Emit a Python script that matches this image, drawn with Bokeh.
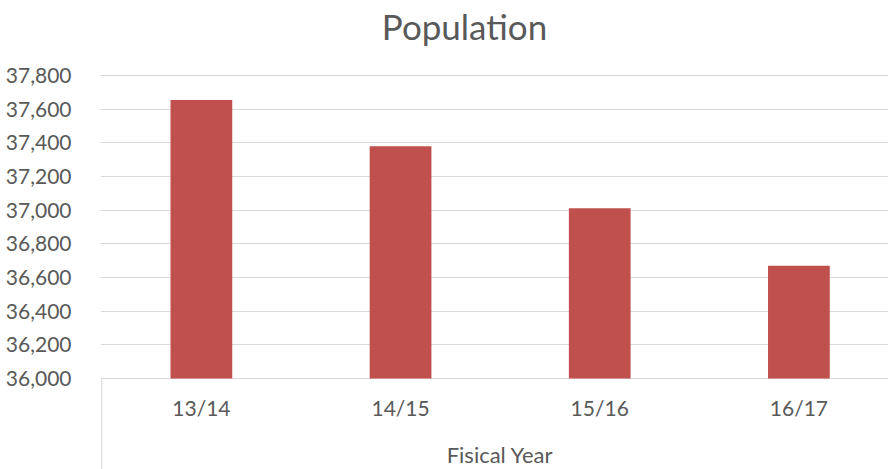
from bokeh.plotting import figure
from bokeh.models import Range1d, FixedTicker, NumeralTickFormatter, ColumnDataSource
from bokeh.core.properties import value
from bokeh.embed import file_html
from bokeh.resources import INLINE

title_text = "Population"
x_title = "Fisical Year"
categories = ["13/14", "14/15", "15/16", "16/17"]
population = [37655, 37380, 37012, 36670]
y_ticks = [36000, 36200, 36400, 36600, 36800, 37000, 37200, 37400, 37600, 37800]

FONT = "Lato"
TXT = "#595959"
GRID = "#D9D9D9"
BAR = "#C0504D"

W, H = 888, 469
# layout (pixels): category axis origin, category pitch, value-axis span
X0_PX, CAT_PX = 101.3, 199.17
FRAME_LEFT = 100
Y_TOP_PX, Y_BOT_PX = 75, 378

y_min, y_max = y_ticks[0], y_ticks[-1]
upp = (y_max - y_min) / (Y_BOT_PX - Y_TOP_PX)   # value units per pixel


def y_at(py):
    return y_min + (Y_BOT_PX - py) * upp


def x_at(px):
    return (px - X0_PX) / CAT_PX


xs = [i + 0.5 for i in range(len(categories))]

p = figure(width=W, height=H, output_backend="svg", toolbar_location=None,
           x_range=Range1d(x_at(FRAME_LEFT), x_at(W)),
           y_range=Range1d(y_at(H), y_at(0)),
           x_axis_location=None,
           min_border_left=FRAME_LEFT, min_border_right=0,
           min_border_top=0, min_border_bottom=0)
p.background_fill_color = "white"
p.border_fill_color = "white"
p.outline_line_color = None
p.xgrid.grid_line_color = None

# value axis
p.yaxis.ticker = FixedTicker(ticks=y_ticks)
p.yaxis.formatter = NumeralTickFormatter(format="0,0")
p.yaxis.axis_line_color = None
p.yaxis.major_tick_line_color = None
p.yaxis.minor_tick_line_color = None
p.yaxis.major_label_standoff = 23
p.yaxis.major_label_text_font = FONT
p.yaxis.major_label_text_font_size = "21px"
p.yaxis.major_label_text_color = TXT
p.ygrid.grid_line_color = GRID
p.ygrid.grid_line_width = 1

# bars
src = ColumnDataSource(dict(x=xs, top=population, label=categories))
p.vbar(x="x", top="top", bottom=y_min, width=0.31, source=src,
       fill_color=BAR, line_color=None)

# category labels
p.text(x="x", y=y_at(407), text="label", source=src,
       text_align="center", text_baseline="alphabetic",
       text_font=value(FONT), text_font_size="21px", text_color=TXT)

# category group separator and group title
p.segment(x0=[0], y0=[y_min], x1=[0], y1=[y_at(H)],
          line_color=GRID, line_width=1)
p.text(x=[x_at(499.5)], y=[y_at(454)], text=[x_title],
       text_align="center", text_baseline="alphabetic",
       text_font=value(FONT), text_font_size="22px", text_color=TXT)

# chart title
p.text(x=[x_at(464)], y=[y_at(25)], text=[title_text],
       text_align="center", text_baseline="alphabetic",
       text_font=value(FONT), text_font_size="35px", text_color=TXT)

open("out.html", "w").write(file_html(p, INLINE))
